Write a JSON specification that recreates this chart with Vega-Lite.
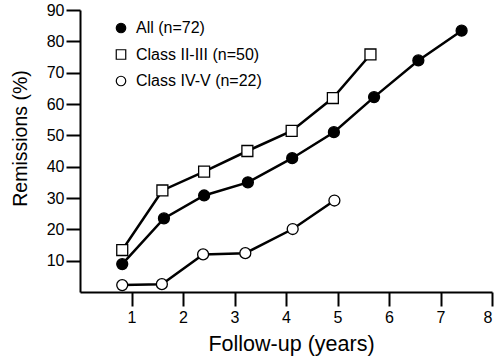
{
  "$schema": "https://vega.github.io/schema/vega-lite/v6.json",
  "width": 412,
  "height": 282,
  "autosize": {"type": "none"},
  "padding": {"left": 80, "top": 10, "right": 8, "bottom": 72},
  "config": {
    "font": "Liberation Sans",
    "view": {"stroke": null},
    "axis": {"grid": false, "domainColor": "black", "tickColor": "black", "labelColor": "black", "titleColor": "black", "domainWidth": 2, "tickWidth": 2, "tickSize": 14, "labelFontSize": 16, "titleFontWeight": "normal"},
    "legend": {"padding": 0, "title": null, "orient": "none", "legendX": 33, "legendY": 10, "labelFontSize": 16, "labelColor": "black", "symbolSize": 90, "symbolStrokeWidth": 1.2, "symbolOpacity": 1, "rowPadding": 10.5, "labelOffset": 7}
  },
  "data": {
    "values": [
      {"series": "All (n=72)", "x": 0.82, "y": 8.9},
      {"series": "All (n=72)", "x": 1.63, "y": 23.5},
      {"series": "All (n=72)", "x": 2.41, "y": 30.8},
      {"series": "All (n=72)", "x": 3.26, "y": 35.0},
      {"series": "All (n=72)", "x": 4.12, "y": 42.7},
      {"series": "All (n=72)", "x": 4.93, "y": 51.0},
      {"series": "All (n=72)", "x": 5.71, "y": 62.2},
      {"series": "All (n=72)", "x": 6.57, "y": 73.9},
      {"series": "All (n=72)", "x": 7.41, "y": 83.4},
      {"series": "Class II-III (n=50)", "x": 0.82, "y": 13.4},
      {"series": "Class II-III (n=50)", "x": 1.6, "y": 32.4},
      {"series": "Class II-III (n=50)", "x": 2.41, "y": 38.4},
      {"series": "Class II-III (n=50)", "x": 3.25, "y": 45.0},
      {"series": "Class II-III (n=50)", "x": 4.11, "y": 51.4},
      {"series": "Class II-III (n=50)", "x": 4.91, "y": 61.9},
      {"series": "Class II-III (n=50)", "x": 5.64, "y": 75.8},
      {"series": "Class IV-V (n=22)", "x": 0.82, "y": 2.2},
      {"series": "Class IV-V (n=22)", "x": 1.59, "y": 2.5},
      {"series": "Class IV-V (n=22)", "x": 2.39, "y": 12.0},
      {"series": "Class IV-V (n=22)", "x": 3.21, "y": 12.4},
      {"series": "Class IV-V (n=22)", "x": 4.13, "y": 20.1},
      {"series": "Class IV-V (n=22)", "x": 4.94, "y": 29.2}
    ]
  },
  "encoding": {
    "x": {"field": "x", "type": "quantitative", "scale": {"domain": [0, 8], "nice": false}, "axis": {"title": "Follow-up (years)", "titleFontSize": 21.5, "titleX": 211, "values": [1, 2, 3, 4, 5, 6, 7, 8], "labelPadding": 3, "titlePadding": 8}},
    "y": {"field": "y", "type": "quantitative", "scale": {"domain": [0, 90], "nice": false}, "axis": {"title": "Remissions (%)", "titleFontSize": 19.5, "titleY": 128, "values": [10, 20, 30, 40, 50, 60, 70, 80, 90], "labelPadding": 2, "titlePadding": 16}}
  },
  "layer": [
    {
      "mark": {"type": "line", "color": "black", "strokeWidth": 2.5},
      "encoding": {"detail": {"field": "series"}}
    },
    {
      "mark": {"type": "point", "filled": true, "strokeWidth": 1.3, "size": 120, "opacity": 1},
      "encoding": {
        "shape": {"field": "series", "type": "nominal", "scale": {"domain": ["All (n=72)", "Class II-III (n=50)", "Class IV-V (n=22)"], "range": ["circle", "square", "circle"]}},
        "fill": {"field": "series", "type": "nominal", "scale": {"domain": ["All (n=72)", "Class II-III (n=50)", "Class IV-V (n=22)"], "range": ["black", "white", "white"]}},
        "stroke": {"field": "series", "type": "nominal", "scale": {"domain": ["All (n=72)", "Class II-III (n=50)", "Class IV-V (n=22)"], "range": ["black", "black", "black"]}}
      }
    }
  ]
}
